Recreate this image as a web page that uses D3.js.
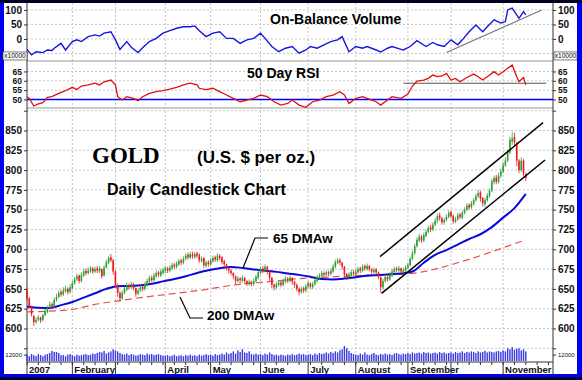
<!DOCTYPE html>
<html>
<head>
<meta charset="utf-8">
<script src="https://cdn.jsdelivr.net/npm/d3@7"></script>
<style>
  body { margin: 0; background: #fff; }
  svg text { font-family: Arial, "Liberation Sans", sans-serif; }
</style>
</head>
<body>
<div id="chart"></div>
<script>
// ---- data (trading day index 0 = first session of Jan 2007) ----
const monthLabels = ["2007", "February", "", "April", "May", "June", "July", "August", "September", "", "November"];
const monthDays = [20, 19, 22, 20, 22, 21, 21, 23, 19, 23, 22];

const open = [
  648,638,628,616,608,611,614,611,617,621,626,631,628,636,640,646,643,647,650,646,
  651,657,662,667,660,667,673,670,672,676,672,676,672,675,667,677,683,690,686,
  672,655,645,638,645,649,655,652,656,651,644,648,653,650,655,659,664,661,666,671,667,670,
  673,676,673,676,681,678,681,686,683,688,693,689,694,690,695,693,685,689,679,684,
  681,685,690,686,692,690,685,681,676,673,670,666,660,663,660,664,660,656,659,656,660,664,
  670,676,673,678,672,664,655,652,655,658,655,659,663,660,664,659,655,650,646,651,648,
  653,657,652,656,660,664,666,670,668,671,669,672,678,683,686,683,678,669,665,667,671,
  668,671,676,673,679,675,679,675,671,675,671,665,652,660,665,662,667,671,676,673,676,671,673,
  677,680,688,695,704,711,716,711,717,722,728,725,731,736,743,739,734,737,741,
  747,742,735,738,744,740,746,750,756,753,757,762,767,772,765,757,762,767,774,785,791,785,793,
  798,806,812,822,836,842,834,812,800,812,795
];
const high = [
  652,640,629,617,614,617,615,619,625,629,634,633,639,644,648,649,652,654,652,656,
  660,665,669,668,671,675,676,677,679,678,678,679,679,676,680,687,692,694,688,
  674,657,647,648,653,658,657,659,658,652,651,655,655,659,663,667,667,670,673,673,675,677,
  679,678,680,683,683,685,688,688,691,695,696,697,697,697,697,695,691,690,686,686,
  689,692,692,695,694,691,687,682,677,675,671,667,666,665,667,665,661,662,660,663,668,674,
  678,679,681,679,673,665,657,659,661,660,663,666,665,667,665,660,657,652,653,653,656,
  660,658,659,664,668,670,673,672,674,673,676,681,687,689,689,684,679,670,671,674,674,
  675,678,678,681,681,682,680,676,677,676,672,666,663,668,667,671,675,678,678,679,677,677,680,
  683,691,698,707,715,719,718,721,725,730,731,734,739,745,746,741,740,744,749,
  749,744,741,746,746,749,753,758,758,761,765,770,775,774,766,765,771,777,789,793,794,797,802,
  810,816,826,842,848,847,836,814,816,814,797
];
const low = [
  635,625,615,603,606,609,607,609,615,619,624,625,626,634,638,640,641,645,643,644,
  649,655,660,657,658,665,667,668,670,669,670,670,670,663,665,676,681,684,668,
  652,640,634,636,643,647,649,650,648,640,642,646,647,648,653,657,659,659,664,665,665,668,
  670,670,671,674,675,676,679,680,681,686,687,688,688,688,689,683,683,677,677,678,
  679,683,684,684,686,681,678,673,669,667,662,656,658,657,658,656,654,654,653,654,658,662,
  668,670,671,668,660,651,648,650,653,652,653,657,657,658,655,651,647,642,644,645,646,
  651,650,650,654,658,662,664,665,666,666,667,670,676,681,680,674,664,661,662,665,666,
  666,669,670,671,673,673,672,669,669,668,662,645,649,658,659,660,665,669,671,671,669,669,671,
  675,679,686,693,702,709,708,709,715,720,722,723,729,733,736,731,731,735,739,
  739,732,733,736,738,738,744,748,750,751,755,760,765,760,754,753,760,765,772,782,782,783,790,
  796,804,810,820,832,830,805,796,798,792,786
];
const close = [
  638,628,618,608,611,614,610,617,622,626,630,628,636,640,645,643,648,650,646,652,
  657,662,666,660,668,672,670,673,676,672,675,673,676,666,677,684,689,686,672,
  655,645,638,645,650,655,652,656,651,644,648,652,650,656,660,664,661,667,670,668,672,674,
  676,673,677,680,678,682,685,683,688,692,690,694,691,694,692,686,688,680,683,681,
  686,689,687,692,689,684,681,676,673,670,666,660,663,661,664,660,657,659,656,660,665,671,
  675,673,678,672,664,655,652,656,658,655,660,663,660,664,659,655,650,646,650,648,653,
  657,653,656,661,665,667,670,668,671,669,673,678,684,686,683,678,668,665,668,671,669,
  672,675,673,678,676,679,675,672,674,671,665,652,660,665,662,668,672,675,674,676,672,674,677,
  680,688,695,704,712,716,711,718,722,727,725,731,736,742,739,734,737,741,746,
  742,735,738,743,741,746,750,755,753,758,762,767,771,764,758,762,768,774,786,790,785,793,798,
  806,812,822,838,840,835,812,800,812,796,790
];
// volume in thousands
const volume = [
  12,9,13,11,9,13,11,9,12,13,15,19,17,17,15,11,11,9,12,13,
  11,9,12,10,11,12,13,11,12,14,13,15,17,16,19,14,16,18,22,
  20,18,15,13,12,14,11,13,12,10,11,13,12,11,14,12,13,11,12,13,11,10,
  10,11,9,10,12,9,10,11,9,11,10,12,10,11,9,12,10,11,13,11,
  12,10,13,11,12,14,12,16,13,15,18,14,20,17,22,16,15,18,13,12,14,12,
  13,11,14,12,16,13,11,12,10,12,11,10,12,11,13,11,12,14,12,13,11,
  12,13,11,14,12,15,13,14,16,14,17,15,18,16,20,22,28,24,19,15,13,
  12,11,14,12,16,12,11,13,15,12,11,13,12,14,12,13,11,14,15,13,12,14,13,
  15,13,16,14,15,16,14,17,15,16,14,15,16,14,17,15,16,14,15,
  16,14,17,15,16,18,15,17,16,18,17,15,18,16,17,19,16,18,17,16,18,19,17,
  20,18,24,22,26,21,23,24,20,22,18
];

const obvDay = [0,2,4,7,9,11,12,15,17,20,22,24,27,30,32,34,37,39,41,44,46,49,51,54,57,60,63,66,69,72,
  74,76,79,82,85,88,91,94,97,100,103,105,108,111,114,117,120,123,125,128,131,134,137,139,142,145,148,150,154,156,
  159,161,165,166,169,172,176,179,181,184,187,190,192,195,198,201,203,206,209,211,212,214,217,219,220];
const obv = [-36,-55,-44,-47,-38,-40,-32,-15,-38,-9,-3,-9,8,14,10,20,25,-3,-36,-9,-29,-47,-30,-9,2,20,29,37,42,42,
  45,28,8,20,25,2,2,-15,-3,2,20,2,-26,-44,-32,-26,-49,-38,-26,-32,-20,-9,-3,8,-44,-26,-32,-26,-38,-45,
  -32,-26,-36,-38,-26,-6,-26,-12,-20,-26,-3,-20,-3,25,48,25,42,66,55,60,100,106,71,94,83];

const rsiDay = [0,1,3,5,7,9,11,14,17,20,22,24,27,30,32,34,37,39,40,42,44,47,49,51,54,57,60,63,66,69,
  72,75,76,79,82,85,88,91,94,97,100,103,106,109,112,115,117,120,123,126,129,132,135,138,140,142,145,148,150,154,
  156,159,161,165,168,170,172,175,177,179,181,183,185,187,189,191,194,197,199,201,203,206,208,210,212,214,216,217,219,220];
const rsi = [51.5,50.6,46.5,47.6,48.3,51.2,51.5,53.3,54.7,56.5,55.3,57.2,57.8,58.7,57.8,59.5,60.4,57.8,51.5,49.7,
  51.5,50.6,49.4,51.5,53.3,54.2,54.7,55.5,56.5,57.8,58.7,57.8,56,55.3,56,54.2,52.4,50.6,48.8,49.7,
  50.6,52.4,51.5,48.8,47,47.9,49.7,47,45.8,48.8,49.7,51.5,52.4,54.2,52.4,47.9,50.6,51.5,50.6,48.8,
  47,49.7,51.5,50.6,52.9,57.2,59.9,60.4,61.3,63.1,62.2,62.6,64,60.4,61.3,59.5,61.8,63.6,62.2,60.4,
  62.2,64.9,63.1,64.9,66.7,68.4,62.2,59.5,61.8,57.8];

const dma65Day = [0,5,10,15,20,25,30,35,40,45,50,55,60,65,70,75,80,85,90,95,100,105,110,115,120,125,130,135,140,145,
  150,155,160,165,170,175,180,185,190,195,200,205,210,215,220];
const dma65 = [627.5,626.3,626,629.5,633.5,639,644.5,650,653.5,653.7,654.5,656.5,659.5,662.5,666,670,673.5,676,677.8,676.5,
  674.5,673,671.5,669.5,667.7,665.4,662.5,662,663,664.8,666.5,667.5,668.5,669.5,672,683,693,699,706,713,719,728,740,752,770];
const dma200Day = [0,10,20,30,40,50,60,70,80,90,100,110,120,130,140,150,160,170,180,190,200,210,220];
const dma200 = [621,622,624,630.5,634.8,639,642.5,646,649.8,654.5,657.5,660,663,664.5,666,667.3,667.8,669.5,675,683,692,702,712];

// trend lines [day, value]
const obvTrend = [[185, -47], [227, 100]];
const rsiLevel = [[166, 58.7], [229, 58.7]];
const channelUpper = [[155.7, 690.7], [227.6, 860]];
const channelLower = [[156.4, 644.4], [228.5, 812.7]];

const obvTicks = [100, 50, 0];
const rsiTicks = [65, 60, 55, 50];
const priceTicks = [600, 625, 650, 675, 700, 725, 750, 775, 800, 825, 850];
const volTicks = [12];

// ---- layout ----
const W = 582, H = 380;
const left = 27, right = 553, axisY = 362;

const svg = d3.select("#chart").append("svg")
    .attr("width", W)
    .attr("height", H);

// frame
svg.append("rect").attr("width", W).attr("height", H).attr("fill", "#0000ee");
svg.append("rect").attr("width", W).attr("height", 3).attr("fill", "#000022");
svg.append("rect").attr("y", 377).attr("width", W).attr("height", 3).attr("fill", "#000030");
svg.append("rect").attr("x", 4).attr("y", 3).attr("width", 573).attr("height", 371).attr("fill", "#fff");

const x = d3.scaleLinear().domain([0, 232]).range([left, right]);
const yObv = d3.scaleLinear().domain([-76, 124]).range([61, 3]);
const yRsi = d3.scaleLinear().domain([45.45, 70.6]).range([108, 61]);
const yPrice = d3.scaleLinear().domain([600, 850]).range([328.5, 130.5]);
const yVol = d3.scaleLinear().domain([0, 30]).range([361, 345]);

const monthStart = [];
monthDays.reduce((acc, n) => { monthStart.push(acc); return acc + n; }, 0);

// grid
const grid = svg.append("g")
    .attr("stroke", "#c4c4c4")
    .attr("stroke-width", 1)
    .attr("stroke-dasharray", "2,2");
monthStart.slice(1).forEach(d => {
    grid.append("line").attr("x1", x(d)).attr("x2", x(d)).attr("y1", 3).attr("y2", axisY);
});
[100, 50, 0, -50].forEach(v => {
    grid.append("line").attr("x1", left).attr("x2", right).attr("y1", yObv(v)).attr("y2", yObv(v));
});
[65, 60, 55].forEach(v => {
    grid.append("line").attr("x1", left).attr("x2", right).attr("y1", yRsi(v)).attr("y2", yRsi(v));
});
d3.range(575, 900, 25).forEach(v => {
    grid.append("line").attr("x1", left).attr("x2", right).attr("y1", yPrice(v)).attr("y2", yPrice(v));
});

// panel separators and side axes
svg.append("line").attr("x1", left).attr("x2", right).attr("y1", 61).attr("y2", 61).attr("stroke", "#999");
svg.append("line").attr("x1", left).attr("x2", right).attr("y1", 108).attr("y2", 108).attr("stroke", "#999");
[left, right].forEach(px => {
    svg.append("line").attr("x1", px).attr("x2", px).attr("y1", 3).attr("y2", axisY).attr("stroke", "#333");
});

function sideAxes(scale, ticks, fmt, size, weight) {
    [[d3.axisLeft, left], [d3.axisRight, right]].forEach(([ax, px]) => {
        svg.append("g")
            .attr("transform", `translate(${px},0)`)
            .call(ax(scale).tickValues(ticks).tickSize(3).tickPadding(2).tickFormat(fmt))
            .call(g => g.select(".domain").remove())
            .call(g => g.selectAll("line").attr("stroke", "#333"))
            .call(g => g.selectAll("text")
                .attr("font-family", "Arial, 'Liberation Sans', sans-serif")
                .attr("font-size", size)
                .attr("font-weight", weight)
                .attr("fill", "#111"));
    });
}
sideAxes(yObv, obvTicks, d3.format("d"), 10, "bold");
sideAxes(yRsi, rsiTicks, d3.format("d"), 8.5, "bold");
sideAxes(yPrice, priceTicks, d3.format("d"), 10, "bold");
sideAxes(yPrice, [575, 875], () => "", 10, "bold");
sideAxes(yVol, volTicks, d => d * 1000, 6, "normal");

// x10000 boxes
[[3, 24], [554, 23]].forEach(([bx, bw]) => {
    svg.append("rect").attr("x", bx).attr("y", yObv(-50) - 1.5).attr("width", bw).attr("height", 8)
        .attr("fill", "#fff").attr("stroke", "#444").attr("stroke-width", 0.7);
    svg.append("text").attr("x", bx + bw / 2).attr("y", yObv(-50) + 4.8)
        .attr("text-anchor", "middle").attr("font-size", 6.5).text("x10000");
});

// x axis
svg.append("line").attr("x1", left).attr("x2", right).attr("y1", axisY).attr("y2", axisY).attr("stroke", "#333");
d3.range(0, 232, 5).forEach(d => {
    svg.append("line").attr("x1", x(d)).attr("x2", x(d)).attr("y1", axisY).attr("y2", axisY + 3).attr("stroke", "#333");
});
monthStart.forEach((d, i) => {
    svg.append("line").attr("x1", x(d)).attr("x2", x(d)).attr("y1", axisY).attr("y2", 374).attr("stroke", "#333");
    svg.append("text").attr("x", x(d) + 2).attr("y", 373)
        .attr("font-size", 9.5).attr("font-weight", "bold").attr("fill", "#111")
        .text(monthLabels[i]);
});
svg.append("line").attr("x1", right).attr("x2", right).attr("y1", axisY).attr("y2", 374).attr("stroke", "#333");

// volume
svg.append("g").selectAll("rect")
    .data(volume)
    .enter().append("rect")
    .attr("x", (d, i) => x(i) - 0.7)
    .attr("width", 1.4)
    .attr("y", d => yVol(d))
    .attr("height", d => yVol(0) - yVol(d))
    .attr("fill", "#3a3adf");

// OBV panel
const lineObv = d3.line().x((d, i) => x(obvDay[i])).y(d => yObv(d));
svg.append("path").datum(obv).attr("d", lineObv)
    .attr("fill", "none").attr("stroke", "#1515e0").attr("stroke-width", 1.4);
svg.append("path").datum(obvTrend)
    .attr("d", d3.line().x(d => x(d[0])).y(d => yObv(d[1])))
    .attr("stroke", "#777").attr("stroke-width", 1.1);

// RSI panel
svg.append("line").attr("x1", left).attr("x2", right).attr("y1", yRsi(50)).attr("y2", yRsi(50))
    .attr("stroke", "#0000ff").attr("stroke-width", 1.5);
const lineRsi = d3.line().x((d, i) => x(rsiDay[i])).y(d => yRsi(d));
svg.append("path").datum(rsi).attr("d", lineRsi)
    .attr("fill", "none").attr("stroke", "#e01010").attr("stroke-width", 1.3);
svg.append("path").datum(rsiLevel)
    .attr("d", d3.line().x(d => x(d[0])).y(d => yRsi(d[1])))
    .attr("stroke", "#555").attr("stroke-width", 1);

// moving averages
svg.append("path").datum(dma200)
    .attr("d", d3.line().curve(d3.curveMonotoneX).x((d, i) => x(dma200Day[i])).y(d => yPrice(d)))
    .attr("fill", "none").attr("stroke", "#e8504f").attr("stroke-width", 1.2).attr("stroke-dasharray", "7,4");
svg.append("path").datum(dma65)
    .attr("d", d3.line().curve(d3.curveMonotoneX).x((d, i) => x(dma65Day[i])).y(d => yPrice(d)))
    .attr("fill", "none").attr("stroke", "#0a0ad8").attr("stroke-width", 2);

// candles
const candles = svg.append("g");
close.forEach((c, i) => {
    const o = open[i];
    const col = c >= o ? "#2f9e35" : "#ec1c1c";
    candles.append("line")
        .attr("x1", x(i)).attr("x2", x(i))
        .attr("y1", yPrice(Math.max(high[i], o, c))).attr("y2", yPrice(Math.min(low[i], o, c)))
        .attr("stroke", col).attr("stroke-width", 0.8);
    candles.append("rect")
        .attr("x", x(i) - 0.8).attr("width", 1.6)
        .attr("y", yPrice(Math.max(o, c)))
        .attr("height", Math.max(1, Math.abs(yPrice(o) - yPrice(c))))
        .attr("fill", col);
});

// channel
[channelUpper, channelLower].forEach(seg => {
    svg.append("path").datum(seg)
        .attr("d", d3.line().x(d => x(d[0])).y(d => yPrice(d[1])))
        .attr("stroke", "#000").attr("stroke-width", 1.5);
});

// titles
svg.append("text").attr("x", 270).attr("y", 24).attr("font-size", 14).attr("font-weight", "bold").text("On-Balance Volume");
svg.append("text").attr("x", 247).attr("y", 78).attr("font-size", 14).attr("font-weight", "bold").text("50 Day RSI");
svg.append("text").attr("x", 92).attr("y", 163)
    .style("font-family", "'Liberation Serif', 'Times New Roman', serif")
    .attr("font-size", 23).attr("font-weight", "bold").text("GOLD");
svg.append("text").attr("x", 197).attr("y", 163).attr("font-size", 17).attr("font-weight", "bold").text("(U.S. $ per oz.)");
svg.append("text").attr("x", 107).attr("y", 195).attr("font-size", 16).attr("font-weight", "bold").text("Daily Candlestick Chart");

// MA labels with leaders
svg.append("text").attr("x", 273).attr("y", 243).attr("font-size", 13.5).attr("font-weight", "bold").text("65 DMAw");
svg.append("path").datum([[268, 238], [255, 238], [243, 268]])
    .attr("d", d3.line()).attr("fill", "none").attr("stroke", "#000").attr("stroke-width", 1.2);
svg.append("text").attr("x", 207).attr("y", 320).attr("font-size", 13.5).attr("font-weight", "bold").text("200 DMAw");
svg.append("path").datum([[180, 297], [190, 318], [203, 318]])
    .attr("d", d3.line()).attr("fill", "none").attr("stroke", "#000").attr("stroke-width", 1.2);
</script>
</body>
</html>
